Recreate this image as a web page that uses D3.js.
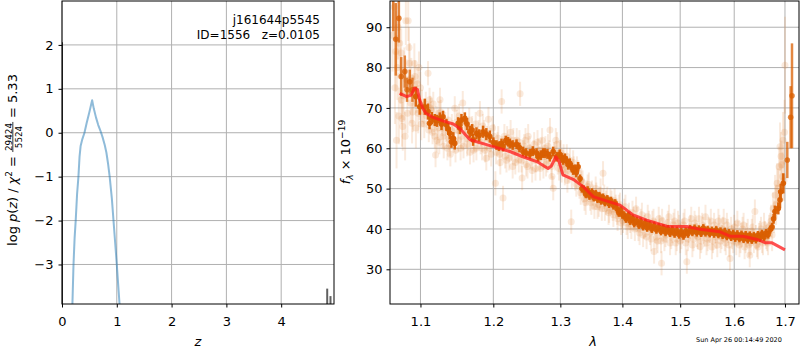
<!DOCTYPE html>
<html>
<head>
<meta charset="utf-8">
<script src="https://cdn.jsdelivr.net/npm/d3@7/dist/d3.min.js"></script>
<style>
  body { margin: 0; background: #fff; }
  text { font-family: "DejaVu Sans", sans-serif; fill: #000; }
</style>
</head>
<body>
<svg id="fig" width="800" height="350"></svg>
<script>
// ---- left panel: log p(z) ----
var pzZ   = [0.19, 0.21, 0.23, 0.25, 0.275, 0.30, 0.32, 0.34, 0.37, 0.41, 0.45, 0.50, 0.55, 0.58, 0.62, 0.66,
             0.70, 0.74, 0.78, 0.81, 0.84, 0.87, 0.91, 0.94, 0.97, 1.00, 1.05]
var pzLog = [-3.9, -3.0, -2.4, -2.0, -1.4, -1.0, -0.55, -0.3, -0.15, 0.0, 0.22, 0.47, 0.74, 0.55, 0.35, 0.18,
             0.05, -0.1, -0.28, -0.45, -0.7, -1.0, -1.5, -2.0, -2.5, -3.0, -3.9]
var spikeZ = [0.006, 0.006]
var spikeLog = [2.06, -3.9]
var barZ = [4.84, 4.90]
var barTop = [-3.55, -3.72]
var zTicks = [0, 1, 2, 3, 4]
var pTicks = [-3, -2, -1, 0, 1, 2]

// ---- right panel: spectrum ----
var lamTicks = [1.1, 1.2, 1.3, 1.4, 1.5, 1.6, 1.7]
var fluxTicks = [30, 40, 50, 60, 70, 80, 90]

// model line
var modelLam = [1.073, 1.082, 1.088, 1.092, 1.096, 1.099, 1.103, 1.107, 1.116, 1.130, 1.144, 1.153, 1.167, 1.200, 1.224,
                1.243, 1.264, 1.281, 1.286, 1.293, 1.298, 1.304, 1.320, 1.336, 1.352, 1.368, 1.396, 1.418, 1.441, 1.476,
                1.512, 1.536, 1.573, 1.592, 1.617, 1.644, 1.660, 1.673, 1.700]
var modelFlux = [73.6, 72.8, 73.2, 74.9, 74.6, 72.0, 69.9, 68.7, 67.7, 66.8, 66.0, 64.9, 62.1, 60.4, 59.2,
                 57.9, 56.7, 55.0, 55.6, 57.9, 56.7, 53.4, 52.3, 50.5, 48.0, 47.2, 45.9, 43.5, 42.2, 40.7,
                 40.6, 39.9, 39.3, 38.2, 38.2, 37.4, 36.6, 36.6, 34.8]

// binned points [lambda, flux, err]
var binned = [
  [1.0648, 100, 11], [1.068, 87.0, 9], [1.072, 92.2, 6], [1.075, 77.8, 4.8], [1.0796, 79.0, 4], [1.0825, 74.5, 3],
  [1.086, 76.5, 3], [1.0895, 74.5, 3], [1.0938, 72.8, 2.5], [1.099, 70.3, 2], [1.1057, 70.3, 2], [1.110, 69.1, 2],
  [1.112, 66.2, 1.5], [1.115, 67.5, 1.5], [1.119, 67.0, 1.5], [1.122, 66.8, 1.5], [1.1257, 67.4, 1.5],
  [1.128, 66.0, 1.5], [1.1301, 67.8, 1.5], [1.1347, 65.8, 1.5], [1.137, 64.8, 1.5], [1.1392, 63.7, 1.5],
  [1.1415, 61.6, 1.5], [1.144, 62.5, 1.5], [1.146, 61.2, 1.5], [1.1506, 66.2, 1.5], [1.153, 65.0, 1.5],
  [1.1552, 67.0, 1.5], [1.1598, 67.4, 1.5], [1.163, 66.0, 1.5], [1.1667, 64.1, 1.5], [1.170, 64.5, 1.5],
  [1.1714, 62.1, 1.5], [1.1761, 63.7, 1.5], [1.180, 63.2, 1.5], [1.1854, 64.1, 1.5], [1.190, 63.5, 1.5],
  [1.195, 62.9, 1.5], [1.200, 61.5, 1.2], [1.2046, 60.8, 1.2], [1.208, 60.5, 1.2], [1.2118, 61.2, 1.2],
  [1.2141, 60.4, 1.2], [1.218, 61.9, 1.2], [1.2214, 61.6, 1.2], [1.2239, 61.2, 1.2], [1.228, 60.8, 1.2],
  [1.2337, 61.0, 1.2], [1.238, 60.2, 1.2], [1.2434, 59.2, 1.2], [1.248, 58.8, 1.2], [1.2535, 58.6, 1.2],
  [1.258, 59.3, 1.2], [1.2636, 58.8, 1.2], [1.266, 57.9, 1.2], [1.270, 58.3, 1.2], [1.2735, 58.8, 1.2],
  [1.2761, 58.8, 1.2], [1.280, 58.6, 1.2], [1.2838, 57.9, 1.2], [1.2889, 59.2, 1.2], [1.2941, 57.9, 1.2],
  [1.299, 58.5, 1.2], [1.302, 57.6, 1.2], [1.3044, 57.1, 1.2], [1.307, 57.5, 1.2], [1.310, 56.8, 1.2],
  [1.3122, 55.9, 1.2], [1.3148, 56.3, 1.2], [1.318, 55.2, 1.2], [1.320, 54.6, 1.2], [1.3227, 54.8, 1.2],
  [1.325, 54.0, 1.2], [1.3279, 55.4, 1.2],
  [1.331, 52.5, 1], [1.334, 50.0, 1], [1.337, 49.8, 1], [1.340, 48.6, 1], [1.343, 49.6, 1], [1.346, 48.2, 1],
  [1.350, 49.1, 1], [1.353, 47.8, 1], [1.356, 48.7, 1], [1.359, 47.4, 1], [1.362, 48.2, 1], [1.365, 47.0, 1],
  [1.368, 47.8, 1], [1.371, 46.6, 1], [1.375, 47.4, 1], [1.378, 46.2, 1], [1.381, 47.0, 1], [1.385, 45.8, 1],
  [1.388, 46.4, 1], [1.391, 45.0, 1], [1.394, 44.0, 1], [1.397, 44.6, 1], [1.400, 43.5, 1],
  [1.403, 43.4, 1], [1.406, 42.5, 1], [1.410, 43.3, 1], [1.413, 42.0, 1], [1.417, 42.6, 1], [1.420, 41.4, 1],
  [1.424, 42.0, 1], [1.428, 41.0, 1], [1.431, 41.8, 1], [1.435, 40.6, 1], [1.439, 41.5, 1], [1.442, 40.3, 1],
  [1.446, 41.0, 1], [1.450, 40.0, 1], [1.454, 40.8, 1], [1.458, 39.8, 1], [1.462, 40.5, 1], [1.466, 39.4, 1],
  [1.470, 40.2, 1], [1.474, 39.2, 1], [1.478, 40.0, 1], [1.482, 39.0, 1], [1.486, 39.8, 1], [1.490, 38.8, 1],
  [1.494, 39.6, 1], [1.498, 38.6, 1], [1.502, 39.3, 1], [1.506, 38.3, 1], [1.510, 39.4, 1], [1.514, 38.8, 1],
  [1.518, 40.0, 1], [1.522, 39.2, 1], [1.526, 40.1, 1], [1.530, 39.1, 1], [1.534, 39.9, 1], [1.538, 39.0, 1],
  [1.542, 40.2, 1], [1.546, 39.1, 1], [1.550, 39.8, 1], [1.554, 38.9, 1], [1.558, 39.6, 1], [1.562, 38.8, 1],
  [1.566, 39.7, 1], [1.570, 38.7, 1], [1.574, 39.4, 1], [1.578, 38.5, 1], [1.582, 39.3, 1], [1.586, 38.2, 1],
  [1.590, 39.0, 1], [1.594, 38.0, 1], [1.598, 38.8, 1], [1.602, 37.8, 1], [1.606, 38.7, 1], [1.610, 37.7, 1],
  [1.614, 38.6, 1], [1.618, 37.5, 1], [1.622, 38.5, 1], [1.626, 37.4, 1], [1.630, 38.4, 1], [1.634, 37.3, 1],
  [1.638, 38.3, 1], [1.642, 37.4, 1], [1.646, 38.5, 1], [1.650, 37.8, 1], [1.654, 38.8, 1], [1.658, 38.0, 1],
  [1.662, 39.0, 1], [1.666, 38.6, 1], [1.670, 39.8, 1], [1.674, 40.5, 1], [1.677, 42.5, 1.2],
  [1.6798, 44.3, 1.5], [1.6865, 45.1, 1.5], [1.6899, 47.2, 2], [1.6913, 49.2, 2], [1.6966, 51.3, 2.5],
  [1.7047, 57.1, 4.5], [1.7116, 67.7, 7.7], [1.7143, 73.0, 13]
]

// individual exposures [lambda, flux, err]
var faint = [
  [1.064, 88, 9], [1.066, 95, 8], [1.067, 75, 9], [1.068, 84, 10], [1.069, 62, 7], [1.070, 80, 8], [1.071, 90, 8],
  [1.072, 68, 7], [1.073, 86, 7], [1.074, 78, 7], [1.075, 83.6, 6], [1.075, 72, 6], [1.076, 67.4, 7], [1.077, 65.4, 6],
  [1.078, 73, 6], [1.079, 79, 6], [1.080, 63, 6], [1.081, 91.6, 6], [1.082, 77, 5], [1.083, 68.7, 5], [1.084, 91.6, 5],
  [1.085, 85, 5], [1.086, 81.1, 5], [1.087, 71.2, 5], [1.088, 77.4, 5], [1.089, 66.2, 5], [1.090, 69, 5],
  [1.091, 74, 4], [1.092, 81, 5], [1.093, 77.8, 4], [1.094, 65, 5], [1.095, 72.8, 4], [1.096, 76, 4],
  [1.097, 68.7, 5], [1.098, 80, 4], [1.099, 71, 4], [1.100, 75, 4], [1.101, 66, 4],
  [1.102, 70.5, 4], [1.104, 69.1, 3], [1.105, 66, 3.5], [1.107, 71, 3], [1.108, 68, 3], [1.110, 78.6, 3],
  [1.111, 64.5, 3], [1.112, 72.0, 3], [1.113, 70, 3], [1.114, 69.5, 3], [1.115, 66.5, 3], [1.116, 64, 3],
  [1.117, 71, 3], [1.118, 67, 3], [1.119, 63, 3], [1.120, 58.3, 3], [1.121, 67.5, 3], [1.122, 62, 3],
  [1.123, 65, 3], [1.124, 68.7, 3], [1.125, 61.5, 3], [1.126, 72, 3], [1.127, 69, 3], [1.128, 65, 3],
  [1.129, 66, 3], [1.130, 63, 3], [1.131, 60.5, 3], [1.133, 66, 3], [1.134, 64.5, 3], [1.136, 60, 3],
  [1.137, 67, 3], [1.138, 62.5, 3], [1.139, 61, 3], [1.140, 58.5, 3], [1.142, 65.5, 3], [1.143, 64, 3],
  [1.145, 62, 3], [1.146, 69.9, 3], [1.147, 59.5, 3], [1.149, 66.5, 3], [1.150, 64.5, 3], [1.151, 62, 3],
  [1.152, 68, 3], [1.154, 60, 3], [1.155, 63, 3], [1.157, 71.2, 3], [1.158, 60.5, 3], [1.160, 64.5, 3],
  [1.161, 66, 3], [1.163, 61, 3], [1.164, 62.5, 3], [1.166, 67, 3], [1.167, 59, 3], [1.169, 63, 3],
  [1.170, 65, 3], [1.172, 59.5, 3], [1.173, 62, 3], [1.175, 66, 3], [1.176, 60, 3], [1.178, 62.5, 3],
  [1.179, 64, 3], [1.181, 68.7, 3], [1.182, 61.5, 3], [1.184, 60, 3], [1.185, 65.5, 3], [1.187, 64, 3],
  [1.188, 59.5, 3], [1.190, 57.5, 3], [1.191, 62.5, 3], [1.193, 67.2, 3], [1.194, 60, 3], [1.196, 62, 3],
  [1.197, 58.5, 3], [1.199, 65, 3],
  [1.201, 63, 3], [1.203, 51.3, 3], [1.204, 59, 3], [1.206, 61, 3], [1.207, 62.5, 3], [1.209, 58.5, 3],
  [1.210, 56.5, 3], [1.212, 71.6, 3], [1.213, 60, 3], [1.214, 47.7, 3], [1.216, 63, 3], [1.217, 58, 3],
  [1.219, 57, 3], [1.220, 62.5, 3], [1.222, 60.5, 3], [1.223, 57.5, 3], [1.225, 64, 3], [1.226, 60, 3],
  [1.228, 55.5, 3], [1.229, 62, 3], [1.231, 59, 3], [1.232, 56.5, 3], [1.234, 62, 3], [1.235, 59.5, 3],
  [1.237, 57, 3], [1.238, 61.5, 3], [1.239, 73.5, 3], [1.241, 57, 3], [1.242, 52.6, 3], [1.244, 59, 3],
  [1.245, 60.5, 3], [1.247, 62, 3], [1.248, 56, 3], [1.250, 55.5, 3], [1.251, 63, 3], [1.253, 60, 3],
  [1.254, 58, 3], [1.256, 57.5, 3], [1.257, 54.5, 3], [1.259, 59, 3], [1.260, 61, 3], [1.262, 55, 3],
  [1.263, 57, 3], [1.265, 61.5, 3], [1.266, 59.5, 3], [1.268, 57.5, 3], [1.269, 55, 3], [1.271, 59.5, 3],
  [1.272, 62, 3], [1.274, 55.5, 3], [1.275, 58, 3], [1.277, 60, 3], [1.278, 56, 3], [1.280, 57, 3],
  [1.281, 60.5, 3], [1.283, 59, 3], [1.284, 64.5, 3], [1.286, 55.5, 3], [1.287, 53, 3], [1.289, 50.1, 3],
  [1.290, 58.5, 3], [1.292, 57.5, 3], [1.293, 62, 3], [1.295, 61, 3], [1.296, 56.5, 3], [1.298, 55, 3],
  [1.299, 59, 3],
  [1.301, 59, 3], [1.302, 54.5, 3], [1.304, 56, 3], [1.305, 58, 3], [1.307, 53.8, 3], [1.308, 55.5, 3],
  [1.310, 58, 3], [1.311, 52, 3], [1.313, 54.5, 3], [1.315, 57, 3], [1.317, 41.8, 3], [1.318, 53, 3],
  [1.320, 56.5, 3], [1.321, 55, 3], [1.323, 52.5, 3], [1.325, 51, 3], [1.326, 55, 3], [1.328, 54, 3],
  [1.330, 50.5, 3], [1.332, 49, 3], [1.333, 52, 3], [1.335, 51.5, 3], [1.336, 49.5, 3], [1.338, 47.5, 3],
  [1.340, 46.5, 3], [1.342, 49, 3], [1.343, 50.5, 3], [1.345, 51, 3], [1.347, 47.5, 3], [1.349, 46.5, 3],
  [1.350, 49, 3], [1.352, 48, 3], [1.354, 45.5, 3], [1.356, 50, 3], [1.357, 48.5, 3], [1.359, 45.5, 3],
  [1.361, 46, 3], [1.363, 47.5, 3], [1.364, 49.5, 3], [1.366, 45, 3], [1.368, 53.8, 3], [1.370, 48, 3],
  [1.371, 45, 3], [1.373, 46.5, 3], [1.375, 47.5, 3], [1.377, 44, 3], [1.378, 44.5, 3], [1.380, 47, 3],
  [1.382, 46.5, 3], [1.384, 45, 3], [1.385, 43.5, 3], [1.387, 47, 3], [1.389, 45.5, 3], [1.391, 44, 3],
  [1.392, 42.5, 3], [1.394, 45.5, 3], [1.396, 46, 3], [1.398, 41.5, 3], [1.399, 43, 3],
  [1.401, 42, 3], [1.403, 44.5, 3], [1.405, 45.5, 3], [1.407, 41.5, 3], [1.409, 40.5, 3], [1.411, 43.5, 3],
  [1.413, 42, 3], [1.415, 40.5, 3], [1.417, 44, 3], [1.419, 42.5, 3], [1.421, 40, 3], [1.423, 45, 3],
  [1.425, 42.5, 3], [1.427, 40, 3], [1.429, 39, 3], [1.431, 42, 3], [1.433, 43.5, 3], [1.435, 38.5, 3],
  [1.437, 40.5, 3], [1.439, 41, 3], [1.441, 38, 3], [1.443, 43, 3], [1.445, 41.5, 3], [1.447, 39, 3],
  [1.449, 37.5, 3], [1.451, 41.5, 3], [1.453, 42, 3], [1.454, 34.4, 3], [1.456, 39.5, 3], [1.458, 38, 3],
  [1.460, 37, 3], [1.462, 42.5, 3], [1.464, 40.5, 3], [1.466, 37, 3], [1.467, 31.5, 3], [1.468, 42, 3],
  [1.470, 40, 3], [1.472, 37.5, 3], [1.474, 38.5, 3], [1.476, 39.5, 3], [1.478, 41.5, 3], [1.480, 43, 3],
  [1.482, 36.5, 3], [1.484, 38, 3], [1.486, 39.5, 3], [1.488, 41, 3], [1.490, 42, 3], [1.492, 36.5, 3],
  [1.494, 37.5, 3], [1.496, 41.5, 3], [1.498, 40.5, 3],
  [1.500, 37, 3], [1.502, 38, 3], [1.504, 39.5, 3], [1.506, 41, 3], [1.508, 42, 3], [1.510, 36.5, 3],
  [1.512, 31.9, 3], [1.514, 37.5, 3], [1.516, 39.5, 3], [1.518, 40.5, 3], [1.520, 42.5, 3], [1.522, 36, 3],
  [1.524, 37.5, 3], [1.526, 41.5, 3], [1.528, 40.5, 3], [1.530, 38.5, 3], [1.532, 38, 3], [1.534, 42.5, 3],
  [1.536, 35.6, 3], [1.538, 37, 3], [1.540, 41, 3], [1.542, 40, 3], [1.544, 38.5, 3], [1.546, 43, 3],
  [1.548, 36.5, 3], [1.550, 37.5, 3], [1.552, 40, 3], [1.554, 39.5, 3], [1.556, 42, 3], [1.558, 35.5, 3],
  [1.560, 37, 3], [1.562, 41, 3], [1.564, 39.5, 3], [1.566, 38, 3], [1.568, 36, 3], [1.570, 42, 3],
  [1.572, 40.5, 3], [1.574, 37, 3], [1.576, 38, 3], [1.578, 40, 3], [1.580, 42, 3], [1.582, 37.5, 3],
  [1.584, 36.5, 3], [1.586, 41, 3], [1.588, 39.5, 3], [1.590, 36, 3], [1.592, 32.7, 3], [1.594, 40, 3],
  [1.596, 38, 3], [1.598, 37, 3],
  [1.600, 40.5, 3], [1.602, 39, 3], [1.604, 36.5, 3], [1.606, 41.5, 3], [1.608, 39, 3], [1.610, 36, 3],
  [1.612, 37, 3], [1.614, 38.5, 3], [1.616, 40, 3], [1.618, 41, 3], [1.620, 35.5, 3], [1.622, 37, 3],
  [1.624, 38.5, 3], [1.626, 39.5, 3], [1.628, 36, 3], [1.630, 33.5, 3], [1.632, 36.5, 3], [1.634, 39.5, 3],
  [1.636, 40.5, 3], [1.638, 37, 3], [1.640, 44.3, 3], [1.642, 38, 3], [1.644, 36, 3], [1.646, 35.5, 3],
  [1.648, 38.5, 3], [1.650, 39, 3], [1.652, 40, 3], [1.654, 37, 3], [1.656, 36.5, 3], [1.658, 41, 3],
  [1.660, 39, 3], [1.662, 38, 3], [1.664, 37.5, 3], [1.666, 36.5, 3], [1.668, 40.5, 3], [1.670, 41, 3],
  [1.672, 42, 4], [1.674, 38.5, 4], [1.676, 45, 4], [1.678, 43, 4], [1.680, 48.4, 5], [1.682, 46, 5],
  [1.684, 51.3, 5], [1.686, 50, 5], [1.688, 55.4, 5], [1.690, 60.4, 6], [1.692, 58, 6], [1.693, 55.9, 6],
  [1.695, 53, 6], [1.696, 62, 7], [1.698, 52, 5], [1.699, 64, 8], [1.700, 80.6, 12]
]

var svg = d3.select('#fig')
var fs = 13
var gridColor = '#b0b0b0'

// ================= left panel =================
var L = { x0: 62, x1: 334, y0: 1, y1: 304 }
var xZ = d3.scaleLinear().domain([0, 4.964]).range([L.x0, L.x1])
var yP = d3.scaleLinear().domain([-3.9, 3.0]).range([L.y1, L.y0])

svg.append('clipPath').attr('id', 'clipL')
   .append('rect').attr('x', L.x0).attr('y', L.y0).attr('width', L.x1 - L.x0).attr('height', L.y1 - L.y0)

var left = svg.append('g')

zTicks.forEach(function (t) {
  left.append('line').attr('x1', xZ(t)).attr('x2', xZ(t)).attr('y1', L.y0).attr('y2', L.y1)
      .attr('stroke', gridColor).attr('stroke-width', 1)
})
pTicks.forEach(function (t) {
  left.append('line').attr('x1', L.x0).attr('x2', L.x1).attr('y1', yP(t)).attr('y2', yP(t))
      .attr('stroke', gridColor).attr('stroke-width', 1)
})

var plotL = left.append('g').attr('clip-path', 'url(#clipL)')

plotL.append('path')
     .datum(d3.zip(pzZ, pzLog))
     .attr('d', d3.line().x(function (d) { return xZ(d[0]) }).y(function (d) { return yP(d[1]) }))
     .attr('fill', 'none').attr('stroke', '#1f77b4').attr('stroke-opacity', 0.5).attr('stroke-width', 2)
     .attr('stroke-linejoin', 'round')

plotL.append('path')
     .datum(d3.zip(spikeZ, spikeLog))
     .attr('d', d3.line().x(function (d) { return xZ(d[0]) }).y(function (d) { return yP(d[1]) }))
     .attr('stroke', '#222').attr('stroke-width', 1.2)

barZ.forEach(function (z, i) {
  plotL.append('rect')
       .attr('x', xZ(z) - 1).attr('width', 2)
       .attr('y', yP(barTop[i])).attr('height', yP(-3.9) - yP(barTop[i]))
       .attr('fill', '#444').attr('fill-opacity', 0.85)
})

left.append('g').attr('transform', 'translate(0,' + L.y1 + ')')
    .call(d3.axisBottom(xZ).tickValues(zTicks).tickSize(3.5).tickPadding(9).tickFormat(d3.format('d')))
left.append('g').attr('transform', 'translate(' + L.x0 + ',0)')
    .call(d3.axisLeft(yP).tickValues(pTicks).tickSize(3.5).tickPadding(5)
    .tickFormat(function (d) { return d < 0 ? '\u2212' + Math.abs(d) : d }))

left.append('rect').attr('x', L.x0).attr('y', L.y0).attr('width', L.x1 - L.x0).attr('height', L.y1 - L.y0)
    .attr('fill', 'none').attr('stroke', '#000').attr('stroke-width', 1)

left.append('text').attr('x', 320).attr('y', 24).attr('text-anchor', 'end')
    .style('font-size', '12px').text('j161644p5545')
left.append('text').attr('x', 320).attr('y', 39).attr('text-anchor', 'end')
    .style('font-size', '12px').text('ID=1556\u00a0\u00a0\u00a0z=0.0105')

left.append('text').attr('x', (L.x0 + L.x1) / 2).attr('y', 346).attr('text-anchor', 'middle')
    .style('font-size', fs + 'px').style('font-style', 'italic').text('z')

// rich text label built from pieces, centred on its own origin
var richLabel = function (g, parts, size) {
  var inner = g.append('g')
  var x = 0
  parts.forEach(function (p) {
    if (p.frac) {
      var small = size * 0.68
      var num = inner.append('text').attr('y', -size * 0.42).style('font-size', small + 'px').text(p.frac[0])
      var den = inner.append('text').attr('y', size * 0.38).style('font-size', small + 'px').text(p.frac[1])
      var wn = num.node().getComputedTextLength()
      var wd = den.node().getComputedTextLength()
      var w = Math.max(wn, wd) + 2
      num.attr('x', x + (w - wn) / 2)
      den.attr('x', x + (w - wd) / 2)
      inner.append('line').attr('x1', x).attr('x2', x + w).attr('y1', -size * 0.32).attr('y2', -size * 0.32)
           .attr('stroke', '#000').attr('stroke-width', 0.8)
      x += w
    } else {
      var sz = (p.sup || p.sub) ? size * 0.7 : size
      var t = inner.append('text').attr('x', x)
                   .attr('y', p.sup ? -size * 0.42 : (p.sub ? size * 0.22 : 0))
                   .style('font-size', sz + 'px')
                   .style('font-style', p.italic ? 'italic' : 'normal')
                   .text(p.t)
      x += t.node().getComputedTextLength() + (p.gap || 0)
    }
  })
  inner.attr('transform', 'translate(' + (-x / 2) + ',0)')
}

var ylabL = svg.append('g').attr('transform', 'translate(17,160) rotate(-90)')
richLabel(ylabL, [
  { t: 'log', gap: 4 }, { t: 'p', italic: true }, { t: '(' }, { t: 'z', italic: true }, { t: ')', gap: 4 },
  { t: '/', gap: 4 }, { t: '\u03c7', italic: true }, { t: '2', sup: true, gap: 4 }, { t: '=', gap: 4 },
  { frac: ['29424', '5524'] }, { t: '', gap: 4 }, { t: '=', gap: 4 }, { t: '5.33' }
], fs)

// ================= right panel =================
var R = { x0: 390, x1: 799, y0: 1, y1: 304 }
var xL = d3.scaleLog().domain([1.0607, 1.7287]).range([R.x0, R.x1])
var yF = d3.scaleLinear().domain([21.4, 96.5]).range([R.y1, R.y0])

svg.append('clipPath').attr('id', 'clipR')
   .append('rect').attr('x', R.x0).attr('y', R.y0).attr('width', R.x1 - R.x0).attr('height', R.y1 - R.y0)

var right = svg.append('g')

lamTicks.forEach(function (t) {
  right.append('line').attr('x1', xL(t)).attr('x2', xL(t)).attr('y1', R.y0).attr('y2', R.y1)
       .attr('stroke', gridColor).attr('stroke-width', 1)
})
fluxTicks.forEach(function (t) {
  right.append('line').attr('x1', R.x0).attr('x2', R.x1).attr('y1', yF(t)).attr('y2', yF(t))
       .attr('stroke', gridColor).attr('stroke-width', 1)
})

var plotR = right.append('g').attr('clip-path', 'url(#clipR)')
var orange = '#d95f02'
var peach = '#e07b2c'

var fg = plotR.append('g')
faint.forEach(function (d) {
  fg.append('line').attr('x1', xL(d[0])).attr('x2', xL(d[0]))
    .attr('y1', yF(d[1] - d[2])).attr('y2', yF(d[1] + d[2]))
    .attr('stroke', peach).attr('stroke-opacity', 0.16).attr('stroke-width', 2)
  fg.append('circle').attr('cx', xL(d[0])).attr('cy', yF(d[1])).attr('r', 3.5)
    .attr('fill', peach).attr('fill-opacity', 0.16)
})

var bg = plotR.append('g')
binned.forEach(function (d) {
  var op = d[2] >= 3 ? 0.75 : 0.95
  bg.append('line').attr('x1', xL(d[0])).attr('x2', xL(d[0]))
    .attr('y1', yF(d[1] - d[2])).attr('y2', yF(d[1] + d[2]))
    .attr('stroke', orange).attr('stroke-opacity', op).attr('stroke-width', 2.5)
  bg.append('circle').attr('cx', xL(d[0])).attr('cy', yF(d[1])).attr('r', 2.8)
    .attr('fill', orange).attr('fill-opacity', op)
})

plotR.append('path')
     .datum(d3.zip(modelLam, modelFlux))
     .attr('d', d3.line().x(function (d) { return xL(d[0]) }).y(function (d) { return yF(d[1]) }))
     .attr('fill', 'none').attr('stroke', '#ff1f1f').attr('stroke-opacity', 0.78).attr('stroke-width', 3)
     .attr('stroke-linejoin', 'round')

right.append('g').attr('transform', 'translate(0,' + R.y1 + ')')
     .call(d3.axisBottom(xL).tickValues(lamTicks).tickSize(3.5).tickPadding(9).tickFormat(d3.format('.1f')))
right.append('g').attr('transform', 'translate(' + R.x0 + ',0)')
     .call(d3.axisLeft(yF).tickValues(fluxTicks).tickSize(3.5).tickPadding(4).tickFormat(d3.format('d')))

right.append('rect').attr('x', R.x0).attr('y', R.y0).attr('width', R.x1 - R.x0).attr('height', R.y1 - R.y0)
     .attr('fill', 'none').attr('stroke', '#000').attr('stroke-width', 1)

right.append('text').attr('x', 593).attr('y', 346).attr('text-anchor', 'middle')
     .style('font-size', fs + 'px').style('font-style', 'italic').text('\u03bb')

var ylabR = svg.append('g').attr('transform', 'translate(350,152) rotate(-90)')
richLabel(ylabR, [
  { t: 'f', italic: true }, { t: '\u03bb', italic: true, sub: true, gap: 4 },
  { t: '\u00d7', gap: 4 }, { t: '10' }, { t: '\u221219', sup: true }
], fs)

svg.append('text').attr('x', 696).attr('y', 342).style('font-size', '6.5px').text('Sun Apr 26 00:14:49 2020')

// axis styling
svg.selectAll('.tick text').style('font-size', fs + 'px').style('font-family', '"DejaVu Sans", sans-serif')
svg.selectAll('.domain').remove()
svg.selectAll('.tick line').attr('stroke', '#000')
</script>
</body>
</html>
